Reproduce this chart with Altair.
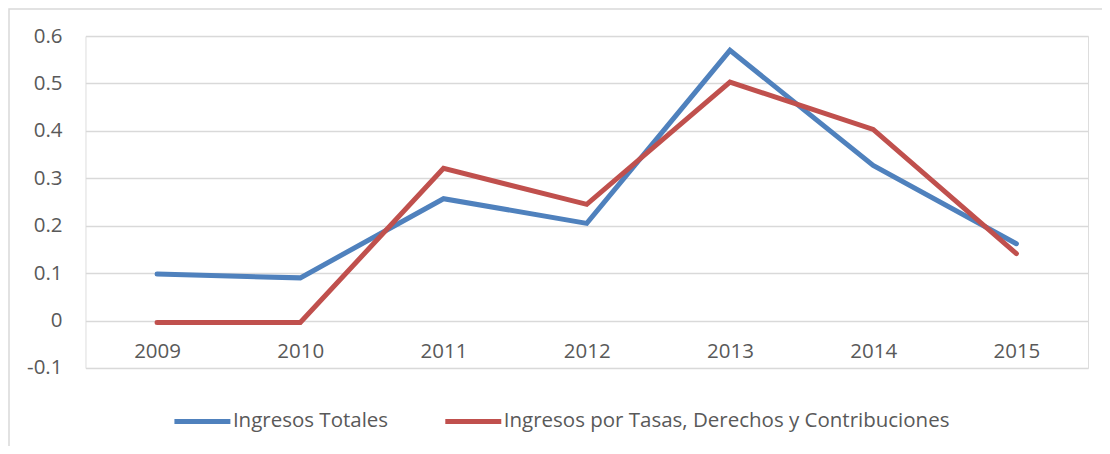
import altair as alt
import pandas as pd

years = ["2009", "2010", "2011", "2012", "2013", "2014", "2015"]
ingresos_totales = [0.098, 0.090, 0.257, 0.205, 0.570, 0.327, 0.162]
ingresos_tasas = [-0.004, -0.004, 0.321, 0.245, 0.503, 0.403, 0.141]
series_names = ["Ingresos Totales", "Ingresos por Tasas, Derechos y Contribuciones"]
series_colors = ["#4F81BD", "#C0504D"]
y_ticks = [-0.1, 0.0, 0.1, 0.2, 0.3, 0.4, 0.5, 0.6]

rows = []
for name, vals in zip(series_names, [ingresos_totales, ingresos_tasas]):
    for yr, v in zip(years, vals):
        rows.append({"Año": yr, "Valor": v, "Serie": name})
df = pd.DataFrame(rows)

FONT = "Open Sans"
TXT = "#595959"

lines = alt.Chart(df).mark_line(strokeWidth=5, strokeCap="round", strokeJoin="miter").encode(
    x=alt.X("Año:N", sort=years, title=None,
            axis=alt.Axis(orient="bottom", offset=-47.4, domain=False, ticks=False,
                          grid=False, labelAngle=0, labelFont=FONT, labelFontSize=20.5,
                          labelColor=TXT, labelBaseline="middle", labelPadding=31)),
    y=alt.Y("Valor:Q", title=None,
            scale=alt.Scale(domain=[-0.1, 0.6], nice=False, zero=False),
            axis=alt.Axis(values=y_ticks, domain=False, ticks=False, grid=True,
                          gridColor="#D9D9D9", gridWidth=1.5,
                          labelFont=FONT, labelFontSize=20.5, labelColor=TXT,
                          labelPadding=23.5,
                          labelExpr="datum.value < -0.0001 ? '-' + format(-datum.value, '.1~f') : format(abs(datum.value) < 0.0001 ? 0 : datum.value, '.1~f')")),
    color=alt.Color("Serie:N", sort=series_names,
                    scale=alt.Scale(domain=series_names, range=series_colors),
                    legend=alt.Legend(title=None, orient="none", direction="horizontal",
                                      legendX=86.5, legendY=355,
                                      symbolType="stroke", symbolSize=3136,
                                      symbolStrokeWidth=5, labelFont=FONT,
                                      labelFontSize=20.5, labelColor=TXT,
                                      labelLimit=0,
                                      labelOffset=0, columnPadding=46)),
)

border = alt.Chart(pd.DataFrame({"a": [0]})).mark_rect(
    fill=None, stroke="#D9D9D9", strokeWidth=1.5, clip=False
).encode(
    x=alt.value(-76.5), x2=alt.value(1100), y=alt.value(-27), y2=alt.value(500)
)

chart = alt.layer(border, lines).properties(
    width=1003, height=332,
    autosize=alt.AutoSizeParams(type="none"),
    padding={"left": 77.5, "top": 28, "right": 14, "bottom": 78},
).configure_view(stroke=None).configure(background="white")

chart.save("out.html", embed_options={"renderer": "svg", "actions": False})
